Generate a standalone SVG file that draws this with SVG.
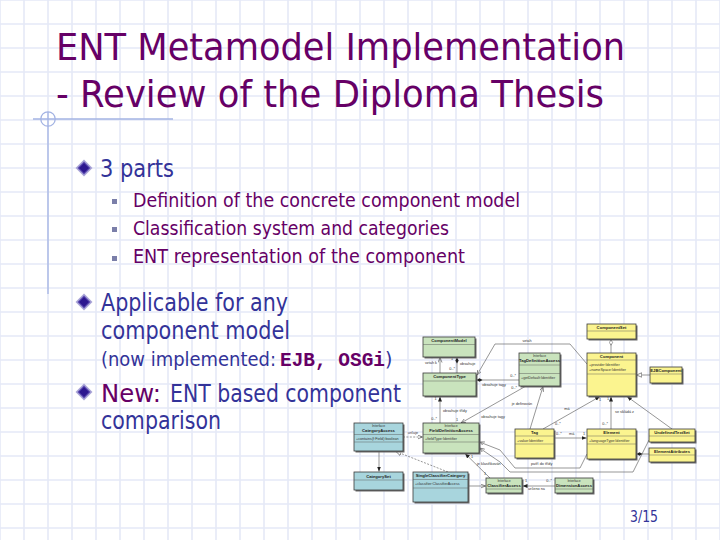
<svg xmlns="http://www.w3.org/2000/svg" width="720" height="540" viewBox="0 0 720 540">
<style>
.t{font-family:"DejaVu Sans","Noto Sans",sans-serif}
.blue{fill:#333399}
.pur{fill:#660066}
.ln{stroke:#6a6a6a;stroke-width:0.7;fill:none}
.dash{stroke-dasharray:2 1.4}
.box{stroke:#3a3a3a;stroke-width:0.8}
.sh{fill:#6b6b6b}
.g{fill:#c9e3bd}
.b{fill:#a8d5dd}
.y{fill:#fbf48f}
.sep{stroke:#555;stroke-width:0.45}
.nm{font-family:"Liberation Sans",sans-serif;font-size:4.2px;font-weight:bold;fill:#222;text-anchor:middle}
.it{font-family:"Liberation Sans",sans-serif;font-size:3.4px;fill:#333;text-anchor:middle}
.at{font-family:"Liberation Sans",sans-serif;font-size:3.7px;fill:#333}
.lb{font-family:"Liberation Sans",sans-serif;font-size:3.8px;fill:#333}
.mid{text-anchor:middle}
.end{text-anchor:end}
</style>
<defs>
<pattern id="grid" x="-12" y="-12" width="24" height="24" patternUnits="userSpaceOnUse">
<path d="M12 0V24M0 12H24" stroke="#e5e9f7" stroke-width="1.6" fill="none"/>
</pattern>
<marker id="fa" markerUnits="userSpaceOnUse" markerWidth="6" markerHeight="5" refX="5" refY="2" orient="auto"><path d="M0 0L5 2L0 4z" fill="#222"/></marker>
<marker id="oa" markerUnits="userSpaceOnUse" markerWidth="6" markerHeight="5" refX="5" refY="2" orient="auto"><path d="M0 0L5 2L0 4" fill="none" stroke="#444" stroke-width="0.6"/></marker>
<marker id="tri" markerUnits="userSpaceOnUse" markerWidth="7" markerHeight="6" refX="5.5" refY="2.5" orient="auto"><path d="M0.3 0.3L5.5 2.5L0.3 4.7z" fill="#fff" stroke="#444" stroke-width="0.6"/></marker>
<marker id="dia" markerUnits="userSpaceOnUse" markerWidth="7" markerHeight="5" refX="6" refY="2" orient="auto"><path d="M0 2L3 0.3L6 2L3 3.7z" fill="#222"/></marker>
<marker id="odia" markerUnits="userSpaceOnUse" markerWidth="7" markerHeight="5" refX="6" refY="2" orient="auto"><path d="M0.3 2L3 0.4L5.7 2L3 3.6z" fill="#fff" stroke="#444" stroke-width="0.5"/></marker>
<g id="bul"><path d="M-8.5 0L0 -8.5L8.5 0L0 8.5z" fill="#aaa6d8"/><path d="M-6.5 0L0 -6.5L6.5 0L0 6.5z" fill="#5a4bb0"/><path d="M-5 0L0 -5L5 0L0 5z" fill="#2c168f"/></g>
</defs>
<rect width="720" height="540" fill="#ffffff"/>
<rect width="720" height="540" fill="url(#grid)"/>

<g id="deco" stroke="#a3b3e3" stroke-width="1.3" fill="none">
<line x1="33" y1="119" x2="173" y2="119"/>
<line x1="48" y1="112" x2="48" y2="294"/>
<circle cx="48" cy="119" r="7.2"/>
</g>

<g id="title" class="t pur" font-size="38">
<text x="56" y="60" textLength="569" lengthAdjust="spacingAndGlyphs">ENT Metamodel Implementation</text>
<text x="56" y="107" textLength="548" lengthAdjust="spacingAndGlyphs">- Review of the Diploma Thesis</text>
</g>

<g id="bullets">
<use href="#bul" x="84" y="168"/>
<text class="t blue" x="100" y="177" font-size="24" textLength="74" lengthAdjust="spacingAndGlyphs">3 parts</text>
<rect x="112" y="199" width="5" height="5" fill="#7b7fa9"/>
<rect x="112" y="227" width="5" height="5" fill="#7b7fa9"/>
<rect x="112" y="256" width="5" height="5" fill="#7b7fa9"/>
<g class="t pur" font-size="19">
<text x="133" y="207" textLength="387" lengthAdjust="spacingAndGlyphs">Definition of the concrete component model</text>
<text x="133" y="235" textLength="316" lengthAdjust="spacingAndGlyphs">Classification system and categories</text>
<text x="133" y="263" textLength="332" lengthAdjust="spacingAndGlyphs">ENT representation of the component</text>
</g>
<use href="#bul" x="84" y="302"/>
<text class="t blue" x="101" y="311" font-size="24" textLength="187" lengthAdjust="spacingAndGlyphs">Applicable for any</text>
<text class="t blue" x="101" y="339" font-size="24" textLength="189" lengthAdjust="spacingAndGlyphs">component model</text>
<text class="t blue" x="101" y="366" font-size="19" textLength="175" lengthAdjust="spacingAndGlyphs">(now implemented:</text>
<text class="pur" x="280" y="366" font-family="'Liberation Mono',monospace" font-weight="bold" font-size="19.5" textLength="105" lengthAdjust="spacingAndGlyphs">EJB, OSGi</text>
<text class="t blue" x="385" y="366" font-size="19">)</text>
<use href="#bul" x="84" y="392"/>
<text class="t pur" x="101" y="402" font-size="24" textLength="60" lengthAdjust="spacingAndGlyphs">New:</text>
<text class="t blue" x="170" y="402" font-size="24" textLength="231" lengthAdjust="spacingAndGlyphs">ENT based component</text>
<text class="t blue" x="101" y="429" font-size="24" textLength="120" lengthAdjust="spacingAndGlyphs">comparison</text>
</g>

<g id="connectors">
<line class="ln" x1="440" y1="373" x2="440" y2="357.5" marker-end="url(#oa)"/>
<line class="ln" x1="457" y1="373" x2="457" y2="357.5" marker-end="url(#dia)"/>
<polyline class="ln" points="587,364 570,344 495,344 477,375" marker-end="url(#oa)"/>
<line class="ln" x1="519" y1="380" x2="476.5" y2="380" marker-end="url(#dia)"/>
<line class="ln" x1="526" y1="386" x2="461" y2="423" marker-end="url(#oa)"/>
<line class="ln" x1="440" y1="423" x2="440" y2="396.5" marker-end="url(#fa)"/>
<line class="ln dash" x1="403" y1="437" x2="422.5" y2="437" marker-end="url(#oa)"/>
<line class="ln" x1="379" y1="451" x2="379" y2="471.5" marker-end="url(#fa)"/>
<line class="ln dash" x1="448" y1="472" x2="396" y2="451.5" marker-end="url(#tri)"/>
<line class="ln" x1="468" y1="486" x2="485.5" y2="486" marker-end="url(#oa)" stroke="#999"/>
<line class="ln" x1="490" y1="478" x2="465" y2="453.5" marker-end="url(#fa)"/>
<line class="ln" x1="555" y1="486" x2="522.5" y2="486" marker-end="url(#fa)"/>
<line class="ln" x1="530" y1="429" x2="543" y2="386.5" marker-end="url(#oa)"/>
<line class="ln" x1="543" y1="429" x2="600" y2="396.5" marker-end="url(#fa)"/>
<line class="ln" x1="554" y1="438" x2="586.5" y2="438" marker-end="url(#fa)"/>
<line class="ln" x1="611" y1="429" x2="611" y2="396.5" marker-end="url(#fa)"/>
<line class="ln" x1="672" y1="429" x2="627" y2="396.5" marker-end="url(#fa)"/>
<line class="ln" x1="649" y1="454" x2="636.5" y2="454" marker-end="url(#dia)"/>
<line class="ln" x1="650" y1="375" x2="636.5" y2="375" marker-end="url(#tri)"/>
<line class="ln" x1="611" y1="353" x2="611" y2="339.5" marker-end="url(#odia)"/>
<polyline class="ln" points="587,454 580,468 515,468 500,450 479.5,442" marker-end="url(#oa)"/>
<polyline class="ln" points="649,440 633,472 510,472 500,462 479.5,448" marker-end="url(#oa)"/>
<g id="edge-labels">
<text class="lb end" x="437" y="364">vztah k</text>
<text class="lb" x="451" y="360">1</text>
<text class="lb end" x="455" y="370">0..*</text>
<text class="lb" x="460" y="365">obsahuje</text>
<text class="lb mid" x="527" y="342">vztah</text>
<text class="lb end" x="516" y="377">0..*</text>
<text class="lb end" x="517" y="389">0..*</text>
<text class="lb mid" x="494" y="386">obsahuje tagy</text>
<text class="lb end" x="436.5" y="400">1</text>
<text class="lb end" x="437" y="420">0..*</text>
<text class="lb" x="443" y="412">obsahuje třídy</text>
<text class="lb mid" x="493" y="418">obsahuje tagy</text>
<text class="lb" x="456" y="421">1</text>
<text class="lb mid" x="413" y="434">určuje</text>
<text class="lb" x="471" y="458">1</text>
<text class="lb" x="477" y="465">je klasifikován</text>
<text class="lb" x="484" y="475">1</text>
<text class="lb" x="525" y="482">1</text>
<text class="lb end" x="552" y="482">0..*</text>
<text class="lb" x="528" y="490">určeno na</text>
<text class="lb mid" x="522" y="405">je definován</text>
<text class="lb mid" x="567" y="410">má</text>
<text class="lb" x="555" y="425">0..*</text>
<text class="lb" x="599" y="401">1</text>
<text class="lb" x="556" y="435">0..*</text>
<text class="lb" x="569" y="435">má</text>
<text class="lb" x="583" y="435">1</text>
<text class="lb" x="607" y="400">1</text>
<text class="lb end" x="608" y="425">0..*</text>
<text class="lb" x="615" y="413">se skládá z</text>
<text class="lb" x="531" y="465">patří do třídy</text>
</g>
</g>

<g id="n-componentmodel"><rect class="sh" x="424.5" y="338.5" width="52" height="20"/><rect class="box g" x="423" y="337" width="52" height="20"/><line class="sep" x1="423" y1="344.5" x2="475" y2="344.5"/><text class="nm" x="449" y="342">ComponentModel</text></g>
<g id="n-componenttype"><rect class="sh" x="424.5" y="374.5" width="53" height="23"/><rect class="box g" x="423" y="373" width="53" height="23"/><line class="sep" x1="423" y1="381" x2="476" y2="381"/><text class="nm" x="449.5" y="378">ComponentType</text></g>
<g id="n-fielddefinitionaccess"><rect class="sh" x="424.5" y="424.5" width="56" height="30"/><rect class="box g" x="423" y="423" width="56" height="30"/><text class="it" x="451" y="427">Interface</text><text class="nm" x="451" y="432">FieldDefinitionAccess</text><line class="sep" x1="423" y1="434.5" x2="479" y2="434.5"/><text class="at" x="425" y="439.5">+fieldType:Identifier</text><line class="sep" x1="423" y1="442" x2="479" y2="442"/></g>
<g id="n-categoryaccess"><rect class="sh" x="355.5" y="424.5" width="49" height="28"/><rect class="box b" x="354" y="423" width="49" height="28"/><text class="it" x="378.5" y="427">Interface</text><text class="nm" x="378.5" y="432">CategoryAccess</text><line class="sep" x1="354" y1="434.5" x2="403" y2="434.5"/><text class="at" x="356" y="439.5">+contains(f:Field):boolean</text><line class="sep" x1="354" y1="442" x2="403" y2="442"/></g>
<g id="n-categoryset"><rect class="sh" x="355.5" y="473.5" width="49" height="18"/><rect class="box b" x="354" y="472" width="49" height="18"/><text class="nm" x="378.5" y="477.5">CategorySet</text><line class="sep" x1="354" y1="480" x2="403" y2="480"/></g>
<g id="n-singleclassifiercategory"><rect class="sh" x="414.5" y="473.5" width="55" height="30"/><rect class="box b" x="413" y="472" width="55" height="30"/><text class="nm" x="440.5" y="477">SingleClassifierCategory</text><line class="sep" x1="413" y1="479.5" x2="468" y2="479.5"/><text class="at" x="415" y="485">+classifier:ClassifierAccess</text><line class="sep" x1="413" y1="488" x2="468" y2="488"/></g>
<g id="n-classifieraccess"><rect class="sh" x="487.5" y="479.5" width="36" height="15"/><rect class="box g" x="486" y="478" width="36" height="15"/><text class="it" x="504" y="482">Interface</text><text class="nm" x="504" y="486.5">ClassifierAccess</text><line class="sep" x1="486" y1="489" x2="522" y2="489"/></g>
<g id="n-dimensionaccess"><rect class="sh" x="556.5" y="479.5" width="38" height="15"/><rect class="box g" x="555" y="478" width="38" height="15"/><text class="it" x="574" y="482">Interface</text><text class="nm" x="574" y="486.5">DimensionAccess</text><line class="sep" x1="555" y1="489" x2="593" y2="489"/></g>
<g id="n-tagdefinitionaccess"><rect class="sh" x="520.5" y="354.5" width="41" height="33"/><rect class="box g" x="519" y="353" width="41" height="33"/><text class="it" x="539.5" y="357">Interface</text><text class="nm" x="539.5" y="362">TagDefinitionAccess</text><line class="sep" x1="519" y1="365" x2="560" y2="365"/><line class="sep" x1="519" y1="373.5" x2="560" y2="373.5"/><text class="at" x="521" y="378.5">+getDefault:Identifier</text></g>
<g id="n-component"><rect class="sh" x="588.5" y="354.5" width="49" height="43"/><rect class="box y" x="587" y="353" width="49" height="43"/><text class="nm" x="611.5" y="357.5">Component</text><line class="sep" x1="587" y1="360" x2="636" y2="360"/><text class="at" x="589" y="365.5">+provider:Identifier</text><text class="at" x="589" y="370.5">+nameSpace:Identifier</text><line class="sep" x1="587" y1="374" x2="636" y2="374"/></g>
<g id="n-componentset"><rect class="sh" x="588.5" y="325.5" width="49" height="15"/><rect class="box y" x="587" y="324" width="49" height="15"/><text class="nm" x="611.5" y="328.5">ComponentSet</text><line class="sep" x1="587" y1="331" x2="636" y2="331"/></g>
<g id="n-ejbcomponent"><rect class="sh" x="651.5" y="368.5" width="32" height="16"/><rect class="box y" x="650" y="367" width="32" height="16"/><text class="nm" x="666" y="371.5">EJBComponent</text><line class="sep" x1="650" y1="374" x2="682" y2="374"/></g>
<g id="n-tag"><rect class="sh" x="516.5" y="430.5" width="39" height="29"/><rect class="box y" x="515" y="429" width="39" height="29"/><text class="nm" x="534.5" y="433.5">Tag</text><line class="sep" x1="515" y1="436" x2="554" y2="436"/><text class="at" x="517" y="441.5">+value:Identifier</text><line class="sep" x1="515" y1="444" x2="554" y2="444"/></g>
<g id="n-element"><rect class="sh" x="588.5" y="430.5" width="49" height="30"/><rect class="box y" x="587" y="429" width="49" height="30"/><text class="nm" x="611.5" y="433.5">Element</text><line class="sep" x1="587" y1="436" x2="636" y2="436"/><text class="at" x="589" y="441.5">+languageType:Identifier</text><line class="sep" x1="587" y1="444" x2="636" y2="444"/></g>
<g id="n-undefinedtextset"><rect class="sh" x="650.5" y="430.5" width="46" height="13"/><rect class="box y" x="649" y="429" width="46" height="13"/><text class="nm" x="672" y="433.5">UndefinedTextSet</text><line class="sep" x1="649" y1="436" x2="695" y2="436"/></g>
<g id="n-elementattributes"><rect class="sh" x="650.5" y="449.5" width="46" height="14"/><rect class="box y" x="649" y="448" width="46" height="14"/><text class="nm" x="672" y="452.5">ElementAttributes</text><line class="sep" x1="649" y1="455" x2="695" y2="455"/></g>

<text id="pagenum" class="t blue" x="630" y="522" font-size="15" textLength="28" lengthAdjust="spacingAndGlyphs">3/15</text>
</svg>
